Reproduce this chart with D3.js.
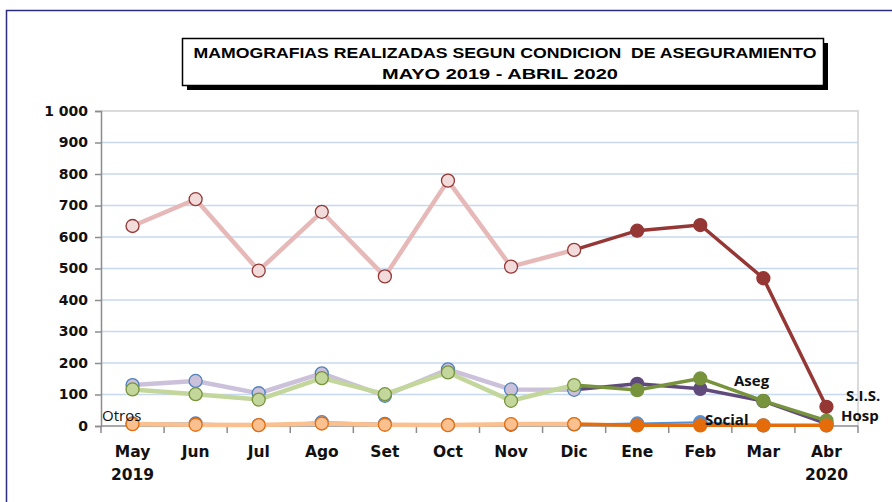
<!DOCTYPE html>
<html>
<head>
<meta charset="utf-8">
<script src="https://cdn.jsdelivr.net/npm/d3@7"></script>
<style>
  body { margin: 0; background: #fff; }
  svg { display: block; }
  .ttl { white-space: pre; }
</style>
</head>
<body>
<div id="chart"></div>
<script>
// meses y años
const months = ["May", "Jun", "Jul", "Ago", "Set", "Oct", "Nov", "Dic", "Ene", "Feb", "Mar", "Abr"];
const years = ["2019", "", "", "", "", "", "", "", "", "", "", "2020"];
const yTicks = [0, 100, 200, 300, 400, 500, 600, 700, 800, 900, 1000];

// valores por condición de aseguramiento
const hosp = [635, 720, 493, 680, 475, 779, 506, 559, 620, 638, 469, 61];
const sis = [130, 143, 104, 167, 96, 180, 116, 115, 134, 118, 79, 8];
const aseg = [116, 101, 84, 152, 101, 170, 80, 130, 114, 151, 80, 17];
const social = [8, 8, 3, 12, 7, 3, 4, 5, 8, 12, 2, 2];
const otros = [6, 4, 3, 8, 4, 3, 6, 6, 2, 2, 2, 2];

// índice donde cambia de color (Dic)
const splitAt = 7;

const width = 892, height = 502;
const margin = { top: 111, right: 34, bottom: 76, left: 101 };

const svg = d3.select('#chart').append('svg')
  .attr('width', width)
  .attr('height', height);

// marco exterior
svg.append('path')
  .attr('d', `M6.5,${height} V10.5 H${width}`)
  .attr('fill', 'none')
  .attr('stroke', '#2B2B80')
  .attr('stroke-width', 1.5);

const x = d3.scaleBand().domain(months).range([margin.left, width - margin.right]);
const y = d3.scaleLinear().domain([0, 1000]).range([height - margin.bottom, margin.top]);
const cx = d => x(d) + x.bandwidth() / 2;

// grid
svg.append('g')
  .selectAll('line').data(yTicks.filter(d => d > 0 && d < 1000))
  .join('line')
  .attr('x1', margin.left).attr('x2', width - margin.right)
  .attr('y1', d => y(d)).attr('y2', d => y(d))
  .attr('stroke', '#C6D9F1')
  .attr('stroke-width', 1.5);

// borde del área de trazado
svg.append('path')
  .attr('d', `M${margin.left},${y(1000)} H${width - margin.right} V${y(0)}`)
  .attr('fill', 'none')
  .attr('stroke', '#D0D0D0')
  .attr('stroke-width', 1.5);

// eje Y
const yAxis = svg.append('g')
  .attr('transform', `translate(${margin.left},0)`)
  .call(d3.axisLeft(y).tickValues(yTicks).tickSize(6).tickPadding(7)
    .tickFormat(d => d3.format(',')(d).replace(',', ' ')));
yAxis.select('.domain').attr('stroke', '#8C8C8C').attr('stroke-width', 1.5);
yAxis.selectAll('.tick line').attr('stroke', '#8C8C8C').attr('stroke-width', 1.5);
yAxis.selectAll('.tick text')
  .attr('font-family', 'DejaVu Sans, Verdana, sans-serif')
  .attr('font-weight', 'bold')
  .attr('font-size', '14px')
  .attr('fill', '#111');

// eje X
const xAxis = svg.append('g')
  .attr('transform', `translate(0,${y(0)})`);
xAxis.append('line')
  .attr('x1', margin.left).attr('x2', width - margin.right)
  .attr('stroke', '#8C8C8C').attr('stroke-width', 1.5);
xAxis.selectAll('.xt').data(months.concat(['end']))
  .join('line')
  .attr('class', 'xt')
  .attr('x1', (d, i) => margin.left + x.step() * i)
  .attr('x2', (d, i) => margin.left + x.step() * i)
  .attr('y1', 0).attr('y2', 7)
  .attr('stroke', '#8C8C8C').attr('stroke-width', 1.5);
const xLab = xAxis.selectAll('text').data(months)
  .join('text')
  .attr('x', d => cx(d))
  .attr('y', 31)
  .attr('text-anchor', 'middle')
  .attr('font-family', 'DejaVu Sans, Verdana, sans-serif')
  .attr('font-weight', 'bold')
  .attr('font-size', '15.5px')
  .attr('fill', '#111');
xLab.append('tspan').text(d => d);
xLab.append('tspan')
  .attr('x', d => cx(d))
  .attr('dy', 23)
  .text((d, i) => years[i]);

// series: [valores, línea clara, relleno claro, borde marcador, línea oscura]
const series = [
  { values: hosp, pale: '#E6B9B8', fillPale: '#F2DCDB', stroke: '#953735', dark: '#953735' },
  { values: sis, pale: '#CCC1DA', fillPale: '#CCC1DA', stroke: '#4F81BD', dark: '#604A7B' },
  { values: aseg, pale: '#C3D69B', fillPale: '#C3D69B', stroke: '#77933C', dark: '#77933C' },
  { values: social, pale: '#4F81BD', fillPale: '#CCC1DA', stroke: '#4F81BD', dark: '#558ED5', thin: true },
  { values: otros, pale: '#FAC090', fillPale: '#FAC090', stroke: '#E46C0A', dark: '#E46C0A' }
];

const line = d3.line().x(d => cx(d.m)).y(d => y(d.v));

// dibujar las series de abajo hacia arriba
const drawOrder = [1, 2, 3, 4, 0];
drawOrder.forEach(si => {
  const s = series[si];
  const pts = s.values.map((v, i) => ({ m: months[i], v, i }));
  const g = svg.append('g');
  g.append('path')
    .datum(pts.slice(0, splitAt + 1))
    .attr('d', line)
    .attr('fill', 'none')
    .attr('stroke', s.pale)
    .attr('stroke-width', s.thin ? 2 : 4.5)
    .attr('stroke-linejoin', 'round');
  g.append('path')
    .datum(pts.slice(splitAt))
    .attr('d', line)
    .attr('fill', 'none')
    .attr('stroke', s.dark)
    .attr('stroke-width', s.thin ? 2 : 3.5)
    .attr('stroke-linejoin', 'round');
  g.selectAll('circle').data(pts)
    .join('circle')
    .attr('cx', d => cx(d.m))
    .attr('cy', d => y(d.v))
    .attr('r', 6.5)
    .attr('fill', d => d.i <= splitAt ? s.fillPale : s.dark)
    .attr('stroke', d => d.i <= splitAt ? s.stroke : s.dark)
    .attr('stroke-width', 1.3);
});

// etiquetas de las series
const labels = [
  { t: 'Otros', x: 102, y: 421, bold: false },
  { t: 'Aseg', x: 734, y: 386, bold: true },
  { t: 'Social', x: 705, y: 425, bold: true },
  { t: 'S.I.S.', x: 846, y: 401, bold: true },
  { t: 'Hosp', x: 841, y: 421, bold: true }
];
svg.append('g').selectAll('text').data(labels)
  .join('text')
  .attr('x', d => d.x)
  .attr('y', d => d.y)
  .attr('font-family', 'Open Sans, Noto Sans, sans-serif')
  .attr('font-weight', d => d.bold ? 'bold' : 'normal')
  .attr('font-size', '15px')
  .attr('fill', '#111')
  .text(d => d.t);

// título
const tg = svg.append('g');
tg.append('rect')
  .attr('x', 187).attr('y', 43).attr('width', 641).attr('height', 47)
  .attr('fill', '#000');
tg.append('rect')
  .attr('x', 182.5).attr('y', 38.5).attr('width', 641).attr('height', 47)
  .attr('fill', '#fff').attr('stroke', '#000').attr('stroke-width', 1.5);
tg.append('text')
  .attr('class', 'ttl')
  .attr('x', 505).attr('y', 58)
  .attr('text-anchor', 'middle')
  .attr('font-family', 'Liberation Sans Narrow, Arial Narrow, Liberation Sans, sans-serif')
  .attr('font-weight', 'bold').attr('font-size', '15.5px')
  .attr('textLength', 623).attr('lengthAdjust', 'spacingAndGlyphs')
  .text('MAMOGRAFIAS REALIZADAS SEGUN CONDICION  DE ASEGURAMIENTO');
tg.append('text')
  .attr('x', 500).attr('y', 79)
  .attr('text-anchor', 'middle')
  .attr('font-family', 'Liberation Sans Narrow, Arial Narrow, Liberation Sans, sans-serif')
  .attr('font-weight', 'bold').attr('font-size', '15.5px')
  .attr('textLength', 236).attr('lengthAdjust', 'spacingAndGlyphs')
  .text('MAYO 2019 - ABRIL 2020');
</script>
</body>
</html>
